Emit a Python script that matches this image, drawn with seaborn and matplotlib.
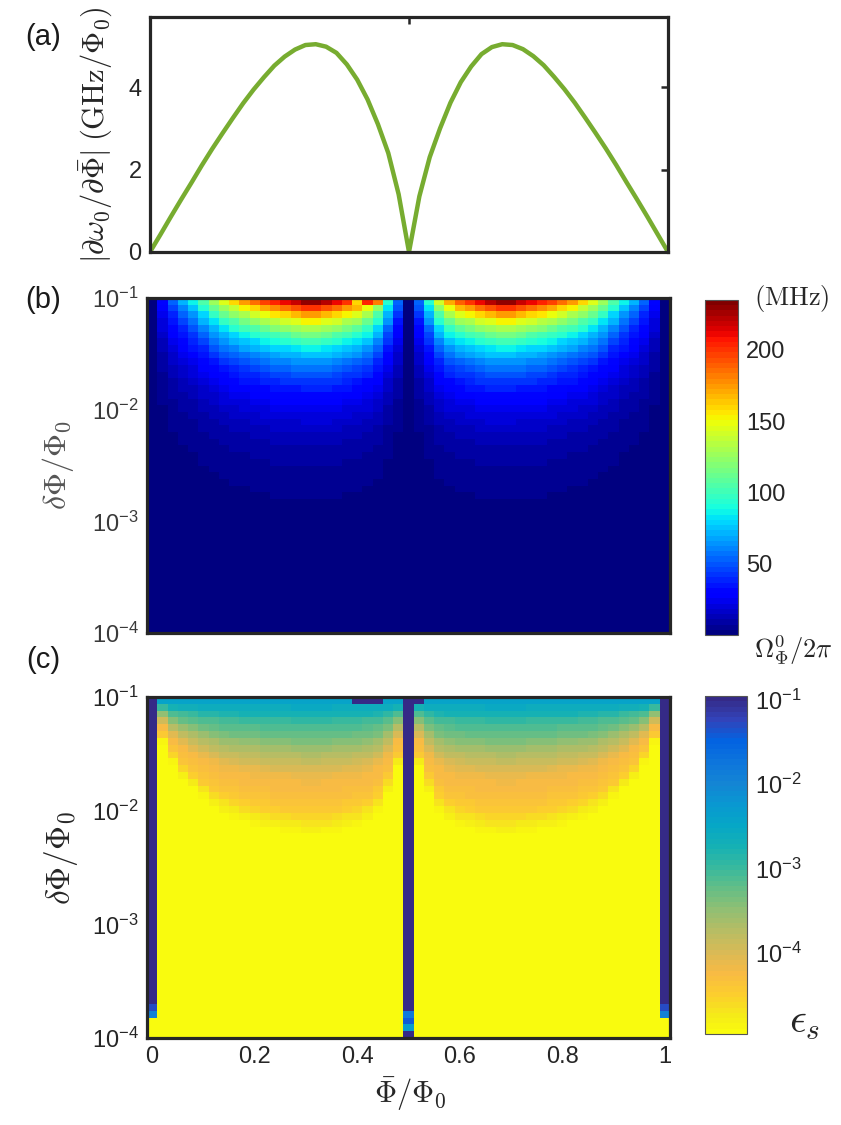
import numpy as np
import matplotlib
matplotlib.use("Agg")
import matplotlib.pyplot as plt
from matplotlib.colors import LinearSegmentedColormap, LogNorm
import seaborn as sns

# ============================================================
# Data
# ============================================================

# flux bias grid (51 columns, step 0.02)
phi_bar = np.linspace(0, 1, 51)

# (a) |d omega0 / d Phi_bar| in GHz/Phi0 at each grid point
slope_ghz = [0.00, 0.42, 0.85, 1.27, 1.68, 2.10, 2.50, 2.88, 3.25, 3.61,
             3.94, 4.24, 4.52, 4.74, 4.91, 5.02, 5.04, 4.98, 4.83, 4.55,
             4.18, 3.70, 3.10, 2.40, 1.40, 0.00, 1.35, 2.30, 3.00, 3.62,
             4.12, 4.50, 4.80, 4.97, 5.04, 5.02, 4.92, 4.75, 4.53, 4.25,
             3.95, 3.62, 3.26, 2.89, 2.51, 2.11, 1.69, 1.28, 0.86, 0.43, 0.00]

# (b) Omega/2pi (MHz) in the top row (dPhi ~ 0.1), one value per column
omega_top = [0, 33, 52, 70, 87, 106, 127, 146, 160, 174,
             184, 195, 205, 212, 220, 228, 228, 222, 212, 200,
             190, 170, 140, 95, 55, 0, 55, 95, 140, 170,
             190, 200, 212, 222, 228, 228, 220, 212, 205, 195,
             184, 174, 160, 146, 127, 106, 87, 70, 52, 33, 0]
# odd cells of the top row in (b)
omega_top_row_fix = {20: 158, 21: 205, 22: 180}

# (c) epsilon_s along a column, versus how far above threshold the cell sits
omega_threshold = 14  # MHz, below this the cell is yellow
s_levels = [0.00, 0.08, 0.18, 0.31, 0.43, 0.53, 0.63, 0.73, 0.83, 0.90, 1.00]
eps_levels = [1.1e-5, 1.7e-5, 3.5e-5, 5.2e-5, 6.5e-5, 1.3e-4, 2.3e-4,
              5.2e-4, 9.0e-4, 1.9e-3, 3.6e-3]
# odd cells in (c)
eps_top_row_fix = {20: 0.11, 21: 0.11, 22: 0.11, 26: 0.11}
eps_edge_bottom = {45: 4.8e-2, 46: 1.2e-2, 47: 1e-6, 48: 1e-6, 49: 1e-6}
eps_mid_bottom = {46: 1.5e-2, 47: 4.0e-2, 48: 5.0e-3}

# 50 log-spaced rows from 1e-4 to 1e-1
n_rows = 50
dphi_edges = np.logspace(-4, -1, n_rows + 1)
dphi_rows = np.sqrt(dphi_edges[:-1] * dphi_edges[1:])[::-1]  # top row first

# ============================================================
# Maps
# ============================================================

omega_top_arr = np.array(omega_top, dtype=float)
omega_smooth = np.outer(dphi_rows / dphi_rows[0], omega_top_arr)
omega_map = omega_smooth.copy()
for j, v in omega_top_row_fix.items():
    omega_map[0, j] = v

with np.errstate(divide="ignore", invalid="ignore"):
    head = np.log10(omega_top_arr / omega_threshold)
    s = np.log10(omega_smooth / omega_threshold) / head
s = np.nan_to_num(s, nan=-1.0, neginf=-1.0, posinf=-1.0)
eps_map = 10 ** np.interp(s, s_levels, np.log10(eps_levels), left=-6)

for j in (0, 25, 50):
    eps_map[:, j] = 0.11
for i, v in eps_edge_bottom.items():
    eps_map[i, 0] = v
    eps_map[i, 50] = v
for i, v in eps_mid_bottom.items():
    eps_map[i, 25] = v
for j, v in eps_top_row_fix.items():
    eps_map[0, j] = v

# ============================================================
# Colormaps
# ============================================================

jet64 = plt.get_cmap("jet").resampled(64)

parula_idx = [0, 4, 8, 12, 16, 20, 24, 28, 32, 36, 40, 44, 48, 52, 56, 60, 63]
parula_rgb = [(0.2081, 0.1663, 0.5292), (0.1959, 0.2645, 0.7279),
              (0.0117, 0.3875, 0.8820), (0.0498, 0.4586, 0.8641),
              (0.0793, 0.5200, 0.8312), (0.0343, 0.5966, 0.8199),
              (0.0228, 0.6535, 0.7768), (0.0843, 0.6928, 0.7062),
              (0.2178, 0.7250, 0.6193), (0.3953, 0.7459, 0.5244),
              (0.5709, 0.7485, 0.4494), (0.7184, 0.7411, 0.3905),
              (0.8507, 0.7299, 0.3360), (0.9739, 0.7314, 0.2666),
              (0.9880, 0.8066, 0.1794), (0.9598, 0.9218, 0.0948),
              (0.9763, 0.9831, 0.0538)]
parula = LinearSegmentedColormap.from_list(
    "parula", [(i / 63, c) for i, c in zip(parula_idx, parula_rgb)], N=64)
parula_r = parula.reversed()

# ============================================================
# Figure
# ============================================================

sns.set_style("white")
plt.rcParams["font.family"] = ["Liberation Sans", "DejaVu Sans"]
plt.rcParams["mathtext.fontset"] = "cm"

W, H = 841, 1125
fig = plt.figure(figsize=(W / 100, H / 100), dpi=100)


def px_axes(left, top, right, bottom):
    return fig.add_axes([left / W, 1 - bottom / H, (right - left) / W, (bottom - top) / H])


def frame(ax, labelcolor="#262626"):
    for sp in ax.spines.values():
        sp.set_visible(True)
        sp.set_linewidth(2.3)
        sp.set_color("#262626")
    ax.tick_params(direction="in", top=True, right=True, length=5, width=1.8,
                   color="#262626", labelsize=17, labelcolor=labelcolor, pad=6)


ax_a = px_axes(150, 17, 668, 252)
ax_b = px_axes(147, 298, 670, 633)
cax_b = px_axes(705, 300, 738, 635)
ax_c = px_axes(147, 697, 670, 1038)
cax_c = px_axes(705, 696, 747, 1034)

# ---- (a) ----
sns.lineplot(x=phi_bar, y=slope_ghz, ax=ax_a, color="#77AC30", linewidth=3.2)
ax_a.set_xlim(0, 1)
ax_a.set_ylim(0, 5.7)
ax_a.set_yticks([0, 2, 4])
ax_a.set_xticks([0, 0.5, 1])
ax_a.set_xticklabels([])
frame(ax_a)
ax_a.set_ylabel(r"$|\partial\omega_0/\partial\bar{\Phi}|\;(\mathrm{GHz}/\Phi_0)$",
                fontsize=22, color="#262626")
ax_a.yaxis.set_label_coords(-0.068, 0.50)

x_pos = np.array([0, 0.2, 0.4, 0.6, 0.8, 1.0]) / 0.02 + 0.5
y_pos = [0, n_rows / 3, 2 * n_rows / 3, n_rows]
y_lab = [r"$\mathregular{10^{-1}}$", r"$\mathregular{10^{-2}}$",
         r"$\mathregular{10^{-3}}$", r"$\mathregular{10^{-4}}$"]

# ---- (b) ----
sns.heatmap(omega_map, ax=ax_b, cmap=jet64, vmin=0, vmax=235, cbar_ax=cax_b,
            xticklabels=False, yticklabels=False)
frame(ax_b, labelcolor="#3a3a3a")
ax_b.set_xticks(x_pos)
ax_b.set_xticklabels([])
ax_b.set_yticks(y_pos)
ax_b.set_yticklabels(y_lab)
ax_b.set_ylabel(r"$\delta\Phi/\Phi_0$", fontsize=23, color="#555555")
ax_b.yaxis.set_label_coords(-0.135, 0.50)

cb_b = ax_b.collections[0].colorbar
cb_b.set_ticks([50, 100, 150, 200])
cb_b.ax.tick_params(labelsize=17, length=3, direction="in", width=1,
                    labelcolor="#262626", pad=6)
cb_b.outline.set_linewidth(0.8)
cb_b.outline.set_edgecolor("#555555")

# ---- (c) ----
sns.heatmap(eps_map, ax=ax_c, cmap=parula_r, norm=LogNorm(vmin=1.1e-5, vmax=0.11),
            cbar_ax=cax_c, xticklabels=False, yticklabels=False)
frame(ax_c)
ax_c.set_xticks(x_pos)
ax_c.set_xticklabels(["0", "0.2", "0.4", "0.6", "0.8", "1"])
ax_c.set_yticks(y_pos)
ax_c.set_yticklabels(y_lab)
ax_c.set_ylabel(r"$\delta\Phi/\Phi_0$", fontsize=24, color="#262626")
ax_c.yaxis.set_label_coords(-0.128, 0.528)
ax_c.set_xlabel(r"$\bar{\Phi}/\Phi_0$", fontsize=22, color="#262626")
ax_c.xaxis.set_label_coords(0.503, -0.11)

cb_c = ax_c.collections[0].colorbar
cb_c.set_ticks([1e-1, 1e-2, 1e-3, 1e-4])
cb_c.set_ticklabels(y_lab)
cb_c.ax.minorticks_off()
cb_c.ax.tick_params(labelsize=17, length=3, direction="in", width=1,
                    labelcolor="#262626", pad=6)
cb_c.outline.set_linewidth(0.8)
cb_c.outline.set_edgecolor("#555555")

# ---- panel letters and colorbar titles ----
for label, ypx in [("(a)", 37), ("(b)", 300), ("(c)", 660)]:
    fig.text(43 / W, 1 - ypx / H, label, fontsize=21, ha="center", va="center",
             color="#1a1a1a")
fig.text(792 / W, 1 - 298 / H, r"$(\mathrm{MHz})$", fontsize=19,
         ha="center", va="center", color="#262626")
fig.text(793 / W, 1 - 650 / H, r"$\Omega_\Phi^0/2\pi$", fontsize=19,
         ha="center", va="center", color="#262626")
fig.text(805 / W, 1 - 1022 / H, r"$\epsilon_s$", fontsize=30,
         ha="center", va="center", color="#262626")

fig.savefig("out.png", dpi=100)
